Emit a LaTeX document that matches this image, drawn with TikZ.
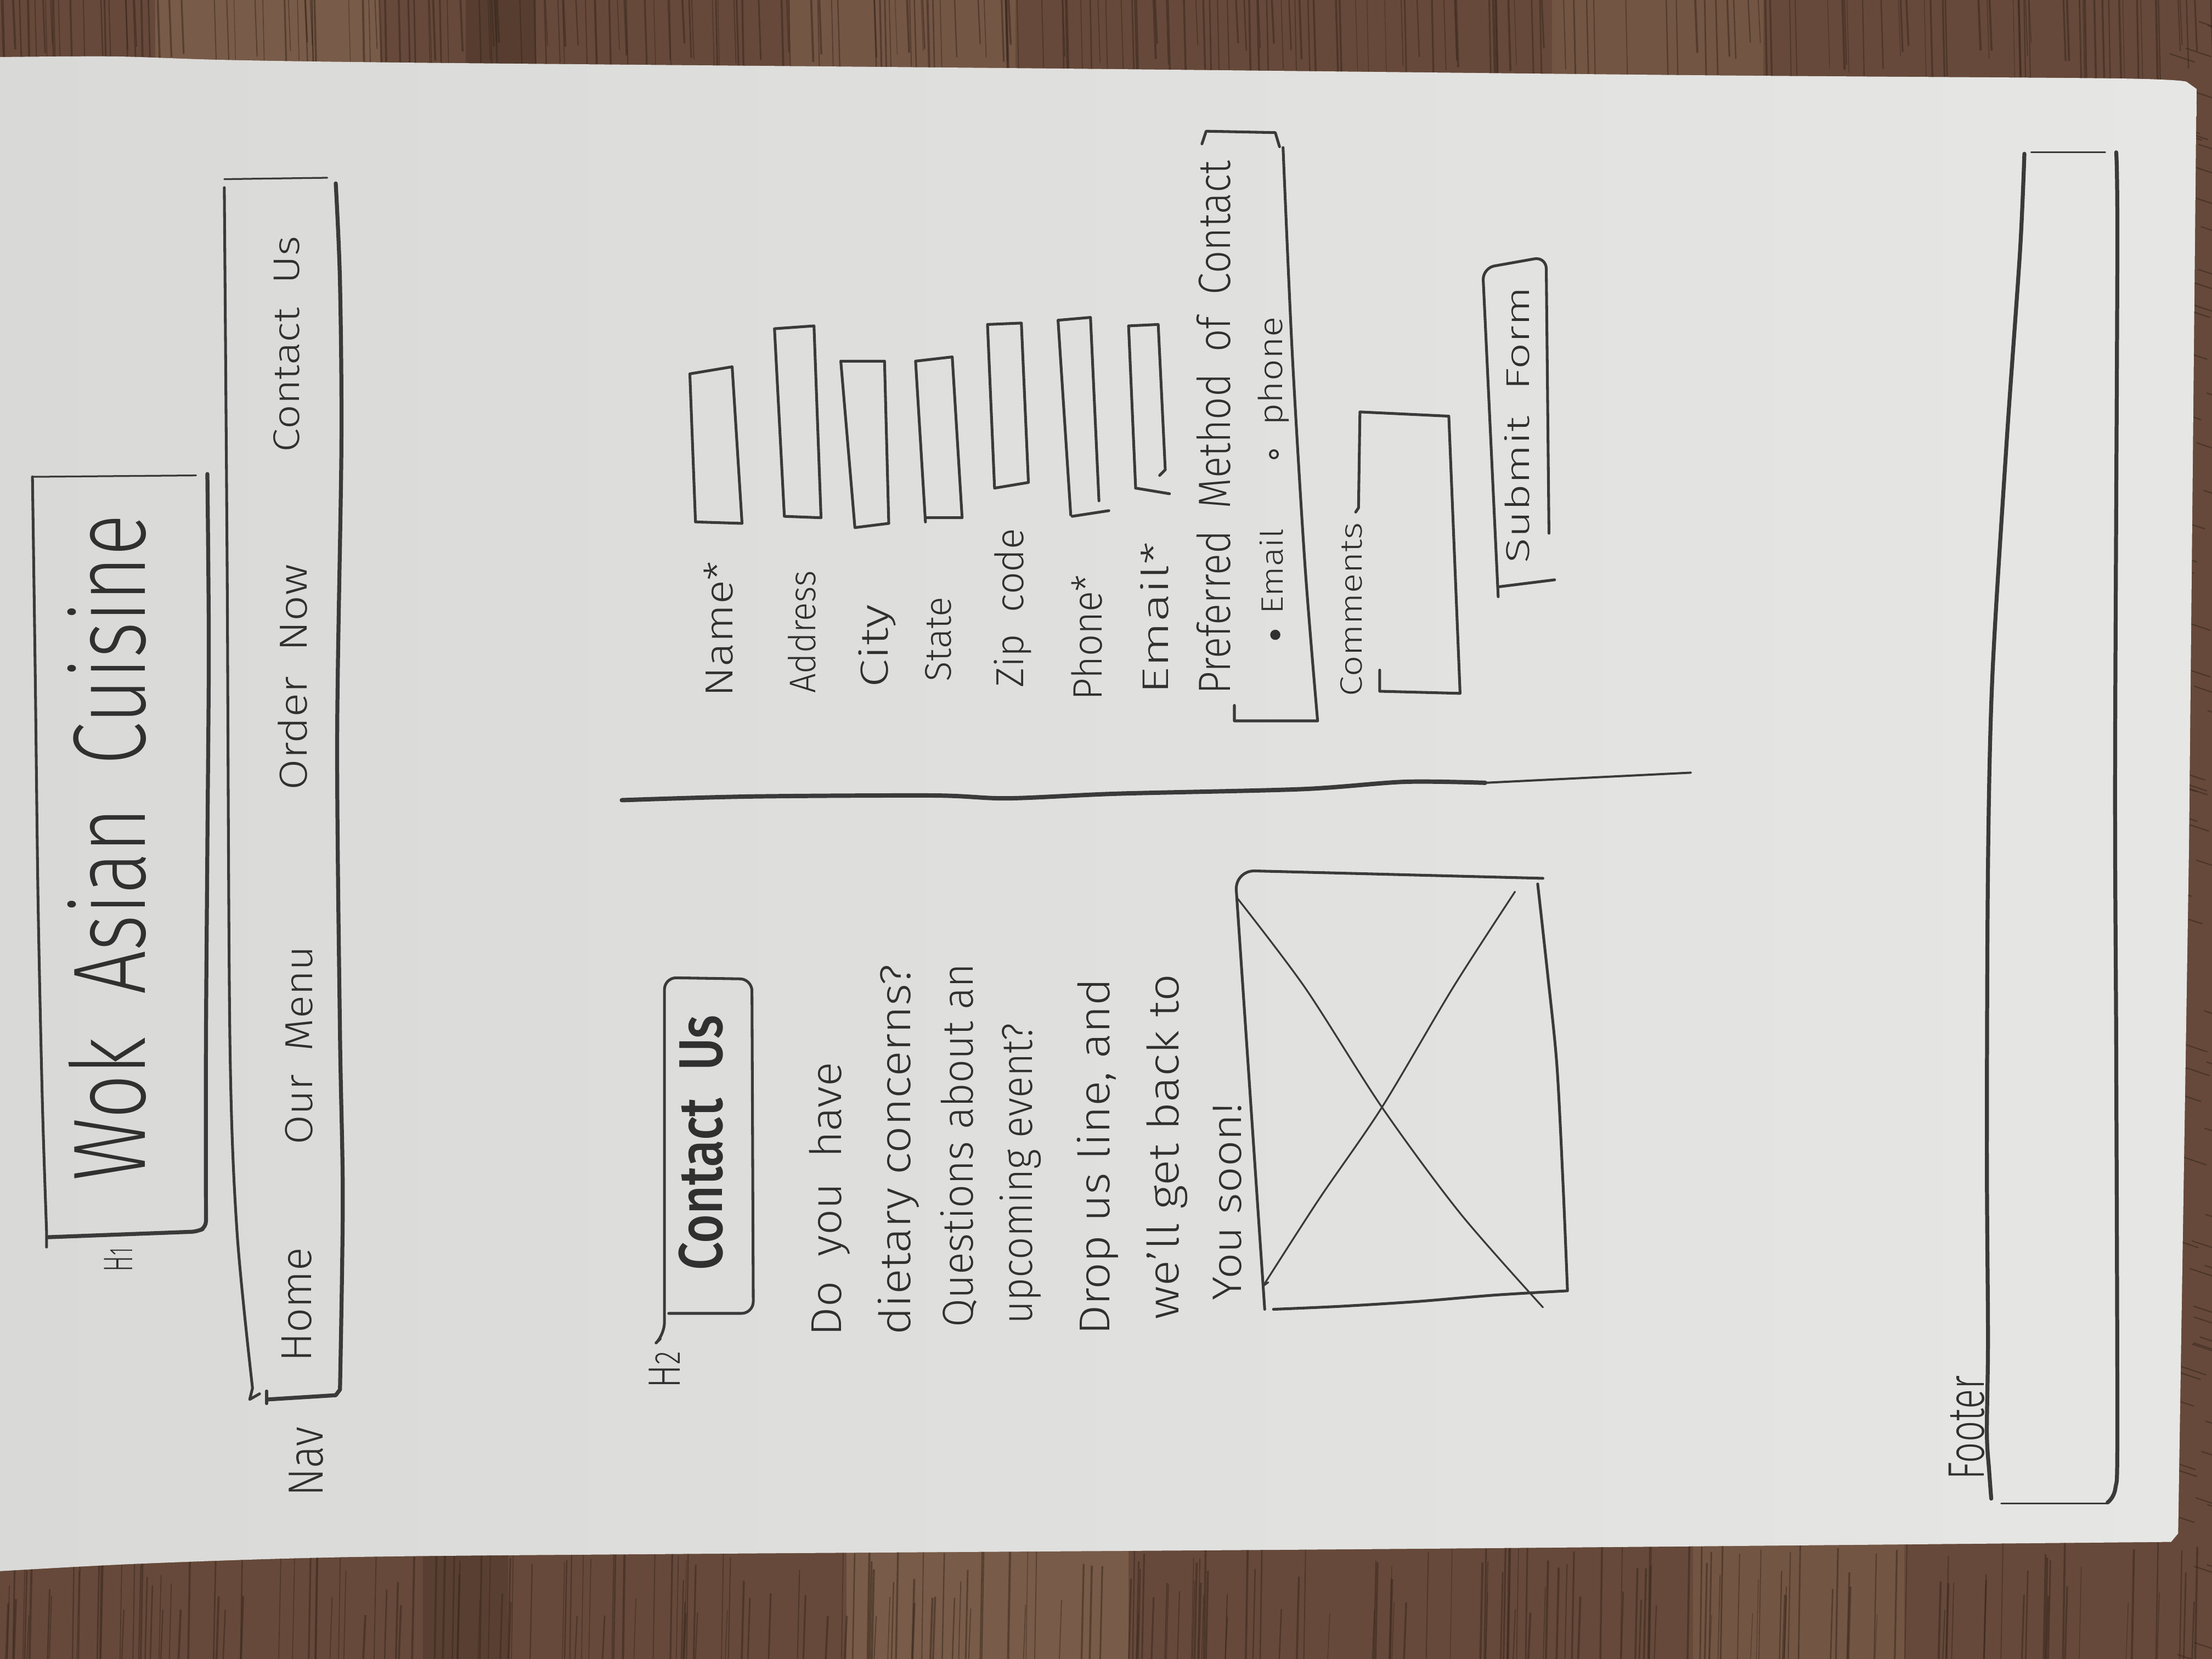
\documentclass[tikz,border=0pt]{standalone}
\usepackage{fontspec}
\setmainfont{Fira Sans Light}[BoldFont={Fira Sans Medium}]
\usepackage{graphicx}
\definecolor{ink}{HTML}{303030}
\definecolor{inkline}{HTML}{3A3A3A}
\definecolor{paperl}{HTML}{D9D9D7}
\definecolor{paperr}{HTML}{E6E6E4}
\definecolor{wood}{HTML}{66493A}
\definecolor{woodlight}{HTML}{8F715A}
\definecolor{wooddark}{HTML}{3A281E}
\newlength\hwu
\setlength\hwu{0.025cm}
% text scaled to a run length and a cap height, both in sketch units
\newcommand\hw[3]{\resizebox{#1\hwu}{#2\hwu}{\raisebox{0pt}[\fontcharht\font`H][0pt]{#3}}}
\newcommand\gap{\hspace{0.55em}}

\begin{document}
\begin{tikzpicture}[x=0.025cm,y=-0.025cm,
  penline/.style={draw=inkline,line width=1.4pt,line cap=round,line join=round},
  thickline/.style={draw=inkline,line width=2pt,line cap=round,line join=round},
  thinline/.style={draw=inkline,line width=0.9pt,line cap=round,line join=round},
  lbl/.style={rotate=90,inner sep=0pt,text=ink}]
\useasboundingbox (0,0) rectangle (1568,1176);

% ---------- table top ----------
\fill[wood] (0,0) rectangle (1568,1176);
\fill[woodlight,opacity=.45] (110,0) rectangle (270,70);
\fill[woodlight,opacity=.35] (560,0) rectangle (720,70);
\fill[wooddark,opacity=.35] (330,0) rectangle (380,70);
\fill[woodlight,opacity=.3] (1100,0) rectangle (1250,70);
\fill[woodlight,opacity=.45] (600,1080) rectangle (800,1176);
\fill[wooddark,opacity=.3] (300,1080) rectangle (360,1176);
\fill[woodlight,opacity=.3] (1200,1080) rectangle (1350,1176);
\pgfmathsetseed{11}
\foreach \i in {1,...,240}{
  \pgfmathsetmacro\gx{rnd*1568}
  \pgfmathsetmacro\gw{0.3+rnd*0.8}
  \pgfmathsetmacro\gl{30+rnd*50}
  \draw[wooddark,opacity=.55,line width=\gw pt] (\gx,0) -- (\gx+1.5,\gl);
  \pgfmathsetmacro\hx{rnd*1568}
  \pgfmathsetmacro\hl{1146-rnd*70}
  \draw[wooddark,opacity=.55,line width=\gw pt] (\hx,1176) -- (\hx+1.5,\hl);
}
\foreach \i in {1,...,70}{
  \pgfmathsetmacro\ry{rnd*1176}
  \pgfmathsetmacro\rx{1535+rnd*30}
  \draw[wooddark,opacity=.6,line width=0.6pt] (\rx,\ry) -- ++(18,6);
}

% ---------- sheet of paper ----------
\path[left color=paperl,right color=paperr]
  plot[smooth,tension=.5] coordinates {(-5,40.5) (80,40) (160,42.5) (300,44.5) (750,48.6) (1200,53.3) (1500,55.6) (1550,58)}
  -- (1557,63) -- (1551.7,600) -- (1544,1087) -- (1539,1093)
  -- plot[smooth,tension=.5] coordinates {(1539,1093) (1000,1097.9) (500,1101.4) (250,1103.7) (100,1108.4) (-5,1114)}
  -- cycle;

% ---------- H1 banner ----------
\draw[thinline] (23,338) -- (139,337);
\draw[penline] plot[smooth] coordinates {(23,338) (25,480) (27,640) (30,780) (33,873)} -- (33,884);
\draw[thickline,rounded corners=3] plot[smooth] coordinates {(147,336) (148,460) (147,600) (146,740) (146,870)} -- (140,873) -- (34,877);
\node[lbl] (title) at (78,601) {\hw{472}{50}{Wok\gap Asian\gap Cuisine}};
\node[lbl] (h1tag) at (84,893) {\hw{17}{20}{H{\footnotesize 1}}};

% ---------- navigation bar ----------
\draw[thinline] (159,127) -- (232,126);
\draw[penline] plot[smooth] coordinates {(159,133) (161,400) (163,739) (168,873) (179,984)} -- (177,992) -- (184,988);
\draw[thickline] plot[smooth] coordinates {(238,130) (241,200) (242,317) (239,525) (241,733) (243,850) (241,985)} -- (238,989) -- (190,992);
\draw[penline] (189,986) -- (189,995);
\node[lbl] (navhome) at (210,925) {\hw{81}{21}{Home}};
\node[lbl] (navmenu) at (212,741) {\hw{141}{19}{Our\gap Menu}};
\node[lbl] (navorder) at (208,480) {\hw{160}{19}{Order\gap Now}};
\node[lbl] (navcontact) at (203,244) {\hw{153}{18}{Contact\gap Us}};
\node[lbl] (navtag) at (217,1036) {\hw{49}{24}{Nav}};

% ---------- H2 heading ----------
\draw[penline,rounded corners=6] (468,949) -- (471,946) -- (471,693) -- (533,694) -- (534,931) -- (474,931);
\node[lbl] (h2tag) at (471,971) {\hw{26}{22}{H{\footnotesize 2}}};
\node[lbl] (heading) at (497,810) {\hw{181}{30}{\bfseries Contact\gap Us}};

% ---------- intro paragraph ----------
\node[lbl] (p1) at (586,850) {\hw{194}{21}{Do\gap you\gap have}};
\node[lbl] (p2) at (635,815) {\hw{263}{21}{dietary concerns?}};
\node[lbl] (p3) at (679,812) {\hw{258}{21}{Questions about an}};
\node[lbl] (p4) at (721,832) {\hw{213}{21}{upcoming event?}};
\node[lbl] (p5) at (776,820) {\hw{253}{21}{Drop us line, and}};
\node[lbl] (p6) at (825,813) {\hw{245}{21}{we'll get back to}};
\node[lbl] (p7) at (870,852) {\hw{140}{20}{You soon!}};

% ---------- image placeholder ----------
\draw[penline,rounded corners=10] (896.5,928.1) -- (875.4,617) -- (1093.7,622.6);
\draw[penline] plot[smooth] coordinates {(1090,626.6) (1097,690) (1103.6,754.9) (1108,840) (1111.1,914.5)};
\draw[penline] plot[smooth] coordinates {(1111.1,915) (1060,918) (1004.4,922.6) (950,926) (902.7,928.1)};
\draw[thinline] plot[smooth] coordinates {(876.7,636.2) (925,700) (979.6,784.9) (1035,860) (1093.7,926.7)};
\draw[thinline] plot[smooth] coordinates {(1073.9,632.1) (1030,700) (979.6,784.9) (935,850) (895.3,911.7)} -- (899,909);

% ---------- divider ----------
\draw[draw=inkline,line width=2.2pt,line cap=round] plot[smooth] coordinates {(440.8,567.2) (532,564.6) (662.2,563.9) (714.2,565.9) (792.4,562.6) (922.6,559.4) (995.5,554.2) (1052.8,554.9)};
\draw[draw=inkline,line width=1.1pt,line cap=round] (1052.8,554.9) -- (1198.6,547.7);

% ---------- contact form ----------
\node[lbl] (lname) at (510,446) {\hw{96}{19}{Name*}};
\draw[penline] (493,370) -- (489,265) -- (519,260) -- (526,371) -- (494,370);
\node[lbl] (laddr) at (569,448) {\hw{87}{18}{Address}};
\draw[penline] (556,366) -- (549,233) -- (577,231) -- (582,367) -- (556,366);
\node[lbl] (lcity) at (620,458) {\hw{59}{19}{City}};
\draw[penline] (606,374) -- (596,256) -- (627,256) -- (630,371) -- (606,374);
\node[lbl] (lstate) at (665,453) {\hw{60}{18}{State}};
\draw[penline] (656,370) -- (649,256) -- (675,253) -- (682,367) -- (656,367);
\node[lbl] (lzip) at (716,431) {\hw{113}{19}{Zip\gap code}};
\draw[penline] (705,346) -- (700,230) -- (724,229) -- (729,342) -- (705,346);
\node[lbl] (lphone) at (771,452) {\hw{89}{20}{Phone*}};
\draw[penline] (759,365) -- (750,227) -- (773,225) -- (779,355);
\draw[penline] (760,366) -- (786,362);
\node[lbl] (lemail) at (819,438) {\hw{108}{18}{Email*}};
\draw[penline] (805,346) -- (800,231) -- (821,230) -- (826,333) -- (822,337);
\draw[penline] (805,346) -- (829,350);

\node[lbl] (lpref) at (861,303) {\hw{378}{22}{Preferred\gap Method\gap of\gap Contact}};
\draw[penline] (852,102) -- (855,93) -- (904,94) -- (907,104);
\draw[penline] plot[smooth] coordinates {(909.5,104.6) (916,250) (925,400) (934,511)} -- (875,511) -- (875,500);
\fill[ink] (904,450) circle (3.6);
\node[lbl] (optemail) at (902,405) {\hw{61}{15}{Email}};
\draw[ink,line width=1pt] (903,322) circle (2.8);
\node[lbl] (optphone) at (901,263) {\hw{77}{16}{phone}};

\node[lbl] (lcomm) at (958,432) {\hw{123}{15}{Comments}};
\draw[penline] (961,363) -- (963,360) -- (964,292) -- (1027,295) -- (1035,491.5) -- (978,490) -- (978,475);

\node[lbl] (submit) at (1076,301) {\hw{196}{16}{Submit\gap Form}};
\draw[penline,rounded corners=6] (1062,423) -- (1051,190) -- (1096,182) -- (1098,378);
\draw[penline] (1062,416) -- (1102,411);

% ---------- footer ----------
\draw[thickline] plot[smooth] coordinates {(1435,109) (1431.9,178.3) (1422.5,312.2) (1412.3,479.6) (1409.2,613.6) (1408.4,814.5) (1409.2,948.5) (1408.4,1015.5) (1410,1042.2) (1411.5,1062.3)};
\draw[thinline] (1439.8,108) -- (1492.3,108);
\draw[thickline] plot[smooth] coordinates {(1500.1,108) (1500.9,178.3) (1499.3,546.6) (1500.1,747.5) (1500.9,1015.5) (1499.5,1055) (1494,1065)};
\draw[thinline] (1494,1065.7) -- (1418.6,1065.7);
\node[lbl] (footer) at (1394,1012) {\hw{74}{25}{Footer}};
\end{tikzpicture}
\end{document}
